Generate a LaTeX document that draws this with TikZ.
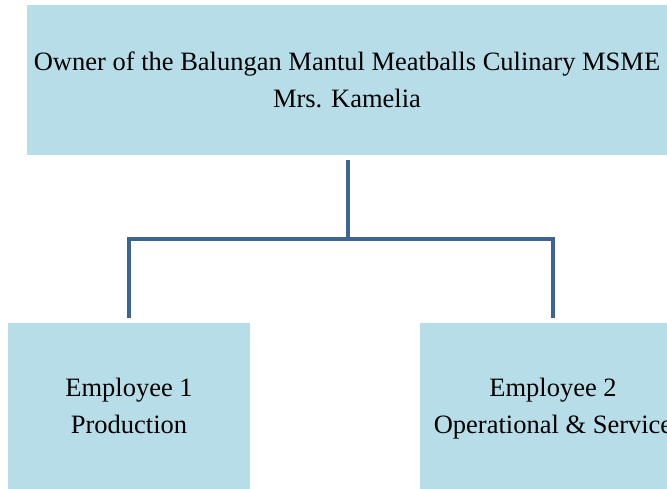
\documentclass[tikz,border=0pt]{standalone}
\usepackage{fontspec}
\setmainfont{Liberation Serif}
\definecolor{boxfill}{HTML}{B7DDE8}
\definecolor{connblue}{HTML}{3E6494}
\begin{document}
\begin{tikzpicture}[x=1pt,y=-1pt,
  orgbox/.style={fill=boxfill, draw=none, rectangle, inner sep=0pt, align=center,
    font=\fontsize{26.5}{37}\selectfont},
  orgtext/.style={inner sep=0pt, align=center, font=\fontsize{26.5}{37}\selectfont},
  conn/.style={draw=connblue, line width=4pt, line join=miter, line cap=butt}]
\clip (0,0) rectangle (667,489);
\node[orgbox, minimum width=640pt, minimum height=150pt] (top) at (347,80)
  {Owner of the Balungan Mantul Meatballs Culinary MSME\\Mrs. Kamelia};
\node[orgbox, minimum width=242pt, minimum height=166pt] (e1) at (129,406)
  {Employee 1\\Production};
\node[orgbox, minimum width=266pt, minimum height=166pt] (e2) at (553,406) {};
\node[orgtext] (e2t) at ([yshift=-3pt]e2.center) {Employee 2\\Operational \& Service};
\coordinate (j) at (348,239);
\draw[conn] ([yshift=-5pt]top.south -| j) -- (j);
\draw[conn] ([yshift=5pt]e1.north) |- (j) -| ([yshift=5pt]e2.north);
\end{tikzpicture}
\end{document}
